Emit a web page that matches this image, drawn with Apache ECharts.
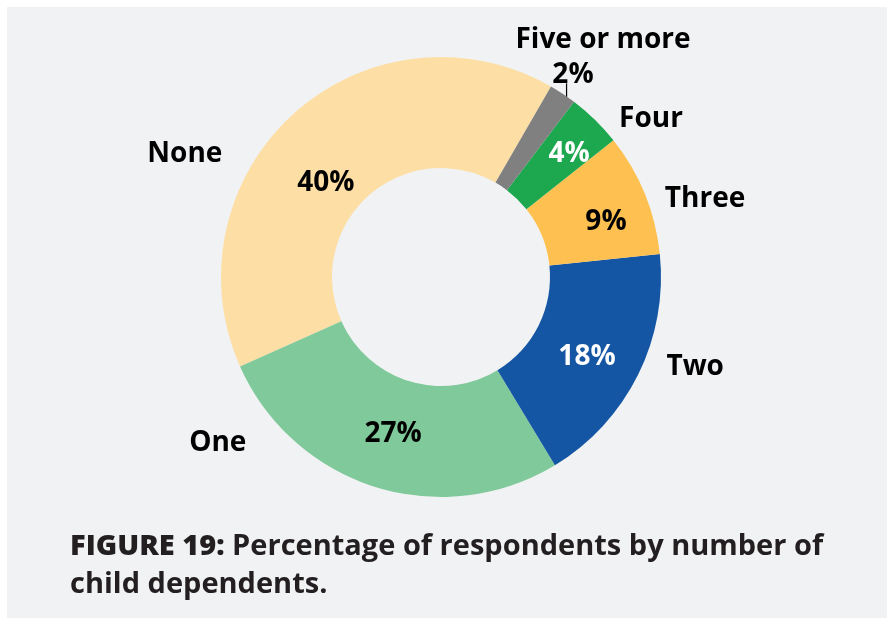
<!DOCTYPE html>
<html>
<head>
<meta charset="utf-8">
<script src="https://cdn.jsdelivr.net/npm/echarts@6/dist/echarts.min.js"></script>
<style>
  html, body { margin: 0; padding: 0; background: #ffffff; }
  #chart { width: 887px; height: 618px; }
</style>
</head>
<body>
<div id="chart"></div>
<script>
// Respondents by number of child dependents (share of respondents, %)
const categories = ['None', 'One', 'Two', 'Three', 'Four', 'Five or more'];
const shares = [40, 27, 18, 9, 4, 2];

// Slice colours and value-label ink, in category order
const sliceColors = ['#FDDFA5', '#80C99B', '#1556A4', '#FEC151', '#1DA74F', '#808080'];
const valueInk = ['#000000', '#000000', '#ffffff', '#000000', '#ffffff', '#000000'];

// Label placement around the ring as [angle in degrees (counter-clockwise from 3 o'clock), radius in px]
const valueSpots = [[140.1, 150], [252.8, 162], [331.9, 165.5], [19.1, 174.6], [44.3, 179], [57.1, 243]];
const nameSpots = [[154.0, 285], [216.3, 277], [340.9, 269], [16.9, 276], [37.3, 264], [55.9, 289]];

const CENTER = [441, 277];
const RADIUS = [109, 220];
const TEXT_DROP = 2; // optical baseline correction for the bold label face
const SMALL_SLICE = categories.length - 1; // its value sits outside with a short leader

function polar(spot) {
  const a = spot[0] * Math.PI / 180;
  return [CENTER[0] + spot[1] * Math.cos(a), CENTER[1] - spot[1] * Math.sin(a) + TEXT_DROP];
}

const labelFont = { fontFamily: '"Open Sans", "Noto Sans", sans-serif', fontWeight: 'bold', fontSize: 28 };

const valueData = categories.map((name, i) => ({
  name: name,
  value: shares[i],
  itemStyle: { color: sliceColors[i] },
  label: Object.assign({ color: valueInk[i] }, i === SMALL_SLICE ? { position: 'outside' } : {}),
  labelLine: { show: i === SMALL_SLICE, length: 8, length2: 0, lineStyle: { color: '#000', width: 1.2 } }
}));

const nameData = categories.map((name, i) => ({ name: name, value: shares[i] }));

const chart = echarts.init(document.getElementById('chart'), null, { renderer: 'canvas' });

chart.setOption({
  animation: false,
  backgroundColor: '#ffffff',
  graphic: [
    { type: 'rect', z: -10, shape: { x: 7, y: 7, width: 880, height: 611 }, style: { fill: '#F1F2F4' } },
    {
      type: 'text', x: 70, y: 528,
      style: {
        text: '{b|FIGURE 19:} Percentage of respondents by number of\nchild dependents.',
        fontFamily: '"Open Sans", "Noto Sans", sans-serif',
        fontWeight: 'bold',
        fontSize: 29,
        lineHeight: 38,
        fill: '#231F20',
        rich: { b: { fontWeight: 800, fontSize: 29, lineHeight: 38, fontFamily: '"Open Sans", "Noto Sans", sans-serif', fill: '#231F20' } }
      }
    }
  ],
  series: [
    {
      type: 'pie',
      name: 'Share',
      center: CENTER,
      radius: RADIUS,
      startAngle: 60,
      clockwise: false,
      avoidLabelOverlap: false,
      silent: true,
      label: Object.assign({ show: true, position: 'inside', formatter: '{c}%' }, labelFont),
      labelLayout: function (p) {
        const pt = polar(valueSpots[p.dataIndex]);
        const out = { x: pt[0], y: pt[1], align: 'center', verticalAlign: 'middle' };
        if (p.dataIndex === SMALL_SLICE) {
          // short vertical leader from the ring edge up towards the value
          const a = 55.2 * Math.PI / 180;
          const x0 = CENTER[0] + RADIUS[1] * Math.cos(a);
          const y0 = CENTER[1] - RADIUS[1] * Math.sin(a);
          out.labelLinePoints = [[x0, y0 + 2], [x0, y0 - 6], [x0, y0 - 13]];
        }
        return out;
      },
      data: valueData
    },
    {
      type: 'pie',
      name: 'Category',
      center: CENTER,
      radius: RADIUS,
      startAngle: 60,
      clockwise: false,
      avoidLabelOverlap: false,
      silent: true,
      itemStyle: { color: 'rgba(0,0,0,0)' },
      label: Object.assign({ show: true, position: 'outside', formatter: '{b}', color: '#000000' }, labelFont),
      labelLine: { show: false },
      labelLayout: function (p) {
        const pt = polar(nameSpots[p.dataIndex]);
        return { x: pt[0], y: pt[1], align: 'center', verticalAlign: 'middle' };
      },
      data: nameData
    }
  ]
});
</script>
</body>
</html>
